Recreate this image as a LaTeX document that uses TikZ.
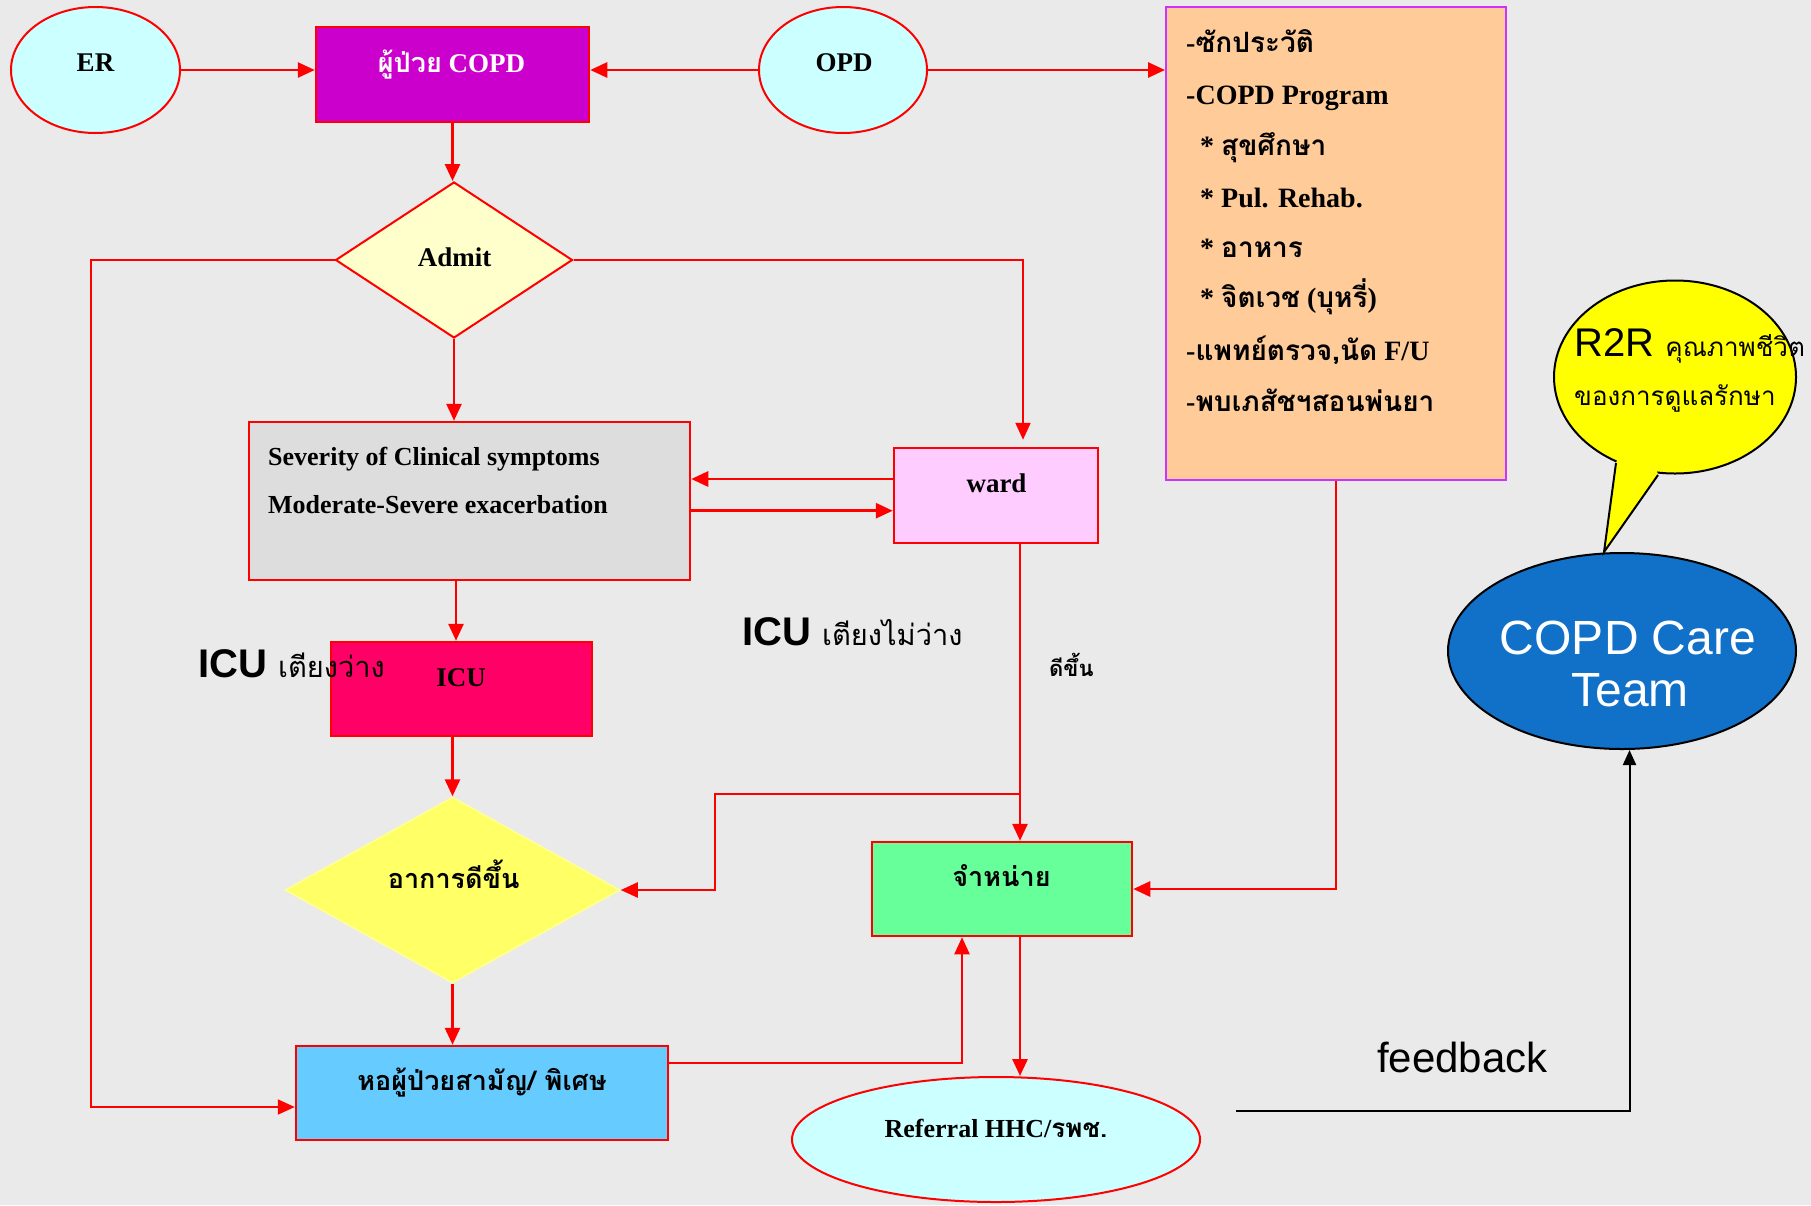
\documentclass[tikz,border=0pt]{standalone}
\usepackage{fontspec}
\setmainfont{Liberation Serif}
\setsansfont{Liberation Sans}
\newfontfamily\thf[Script=Thai]{Loma}
\usetikzlibrary{shapes.geometric,arrows.meta}

\definecolor{bgc}{RGB}{234,234,234}
\definecolor{lnred}{RGB}{255,0,0}
\definecolor{magc}{RGB}{204,0,204}
\definecolor{ovalc}{RGB}{204,255,255}
\definecolor{admitc}{RGB}{255,255,204}
\definecolor{sevc}{RGB}{221,221,221}
\definecolor{wardc}{RGB}{255,204,255}
\definecolor{icuc}{RGB}{255,0,102}
\definecolor{betterc}{RGB}{255,255,102}
\definecolor{betteredge}{RGB}{255,255,153}
\definecolor{dischc}{RGB}{102,255,153}
\definecolor{wardtwoc}{RGB}{102,204,255}
\definecolor{orangec}{RGB}{255,204,153}
\definecolor{violetc}{RGB}{204,51,255}
\definecolor{teamc}{RGB}{17,112,200}
\definecolor{bubblec}{RGB}{255,255,0}

\begin{document}
\begin{tikzpicture}[x=1pt,y=-1pt,
  flowbox/.style={rectangle, draw=lnred, line width=2.5pt, inner sep=0pt},
  oval/.style={ellipse, draw=lnred, line width=2pt, fill=ovalc, inner sep=0pt},
  tip/.style={-{Triangle[length=17pt,width=15pt]}},
  arr/.style={draw=lnred, line width=2.8pt, tip},
  link/.style={draw=lnred, line width=2.2pt, tip},
  fbarr/.style={draw=black, line width=2pt, -{Triangle[length=15pt,width=13pt]}},
  lbl/.style={inner sep=0pt, anchor=base, font=\fontsize{27}{32}\selectfont\bfseries},
  lblw/.style={inner sep=0pt, anchor=base west, font=\fontsize{26}{32}\selectfont\bfseries},
  prog/.style={inner sep=0pt, anchor=base west, font=\fontsize{28}{34}\selectfont\bfseries},
  bigsans/.style={inner sep=0pt, anchor=base west, font=\sffamily\fontsize{40}{46}\selectfont}
]
% canvas
\useasboundingbox (0,0) rectangle (1811,1205);
\fill[bgc] (0,0) rectangle (1811,1205);

% ---- shapes ----
\node[oval, minimum width=169pt, minimum height=126pt] (er) at (95.5,70) {};
\node[oval, minimum width=168pt, minimum height=126pt] (opd) at (843,70) {};
\node[flowbox, fill=magc, minimum width=273pt, minimum height=95pt] (copd) at (452.5,74.5) {};
\node[diamond, draw=lnred, line width=2pt, fill=admitc, inner sep=0pt,
      minimum width=237pt, minimum height=156pt] (admit) at (454,260) {};
\node[flowbox, fill=sevc, minimum width=441pt, minimum height=158pt] (sev) at (469.5,501) {};
\node[flowbox, fill=wardc, minimum width=204pt, minimum height=95pt] (ward) at (996,495.5) {};
\node[flowbox, fill=icuc, minimum width=261pt, minimum height=94pt] (icu) at (461.5,689) {};
\node[diamond, draw=betteredge, line width=1.5pt, fill=betterc, inner sep=0pt,
      minimum width=335pt, minimum height=186pt] (better) at (452.5,890) {};
\node[flowbox, fill=dischc, minimum width=260pt, minimum height=94pt] (disch) at (1002,889) {};
\node[flowbox, fill=wardtwoc, minimum width=372pt, minimum height=94pt] (ward2) at (482,1093) {};
\node[oval, minimum width=408pt, minimum height=125pt] (referral) at (996,1139.5) {};
\node[rectangle, draw=violetc, line width=2pt, fill=orangec, inner sep=0pt,
      minimum width=340pt, minimum height=473pt] (orange) at (1336,243.5) {};
\node[ellipse, draw=black, line width=2pt, fill=teamc, inner sep=0pt,
      minimum width=348pt, minimum height=196pt] (team) at (1622,651) {};

% speech bubble with its tail
\node[ellipse, draw=black, line width=2pt, fill=bubblec, inner sep=0pt,
      minimum width=242pt, minimum height=193pt] (bubble) at (1675,377) {};
\coordinate (tailA) at (1616,463);
\coordinate (tailB) at (1658,475);
\coordinate (tailtip) at (1604,552);
\fill[bubblec] (tailA) -- (tailtip) -- (tailB) -- (1652,452) -- (1622,448) -- cycle;
\draw[black, line width=2pt, line join=miter] (tailA) -- (tailtip) -- (tailB);

% ---- connectors ----
\draw[arr] (er.east) -- (er.east -| copd.west);
\draw[arr] (opd.west) -- (opd.west -| copd.east);
\draw[arr] (opd.east) -- (opd.east -| orange.west);
\draw[arr] (copd.south) -- (copd.south |- admit.north);
\draw[arr] (admit.south) -- (admit.south |- sev.north);

\coordinate (lcorner) at (91,260);
\draw[link] (admit.west) -- (lcorner) |- ([yshift=-14pt]ward2.west);

\coordinate (rcorner) at (1023,260);
\draw[link, shorten >=7pt] (admit.east) -- (rcorner) -- (rcorner |- ward.north);

\draw[arr] ([yshift=16.5pt]ward.west) -- ([yshift=16.5pt]ward.west -| sev.east);
\draw[arr] ([yshift=-9.7pt]sev.east) -- ([yshift=-9.7pt]sev.east -| ward.west);
\draw[arr] ([xshift=-13.5pt]sev.south) -- ([xshift=-13.5pt]sev.south |- icu.north);
\draw[arr] (icu.south -| better.north) -- (better.north);

\draw[arr] ([xshift=24pt]ward.south) -- ([xshift=24pt]ward.south |- disch.north);
\coordinate (split) at (1020,794);
\coordinate (jog) at (715,794);
\draw[link] (split) -- (jog) |- (better.east);

\draw[arr] (orange.south) |- (disch.east);
\draw[arr] (better.south) -- (better.south |- ward2.north);
\draw[link] ([yshift=30pt]ward2.east) -| ([xshift=-40pt]disch.south);
\draw[arr] ([xshift=18pt]disch.south) -- ([xshift=18pt]disch.south |- referral.north);

\coordinate (fbstart) at (1236,1111);
\draw[fbarr] (fbstart) -| ([xshift=7.5pt]team.south);

% ---- texts ----
\node[lbl] (ertxt) at (95.5,71) {ER};
\node[lbl] (opdtxt) at (844,71) {OPD};
\node[lbl, text=white] (copdtxt) at (451.5,72.7) {{\thf ผู้ป่วย} COPD};
\node[lbl] (admittxt) at (454.5,266) {Admit};
\node[lblw] (sevone) at (268,465) {Severity of Clinical symptoms};
\node[lblw] (sevtwo) at (268,513) {Moderate-Severe exacerbation};
\node[lbl] (wardtxt) at (996.5,492.7) {ward};
\node[lbl] (icutxt) at (461,686.7) {ICU};
\node[lbl] (bettertxt) at (453.7,888) {\thf อาการดีขึ้น};
\node[lbl] (dischtxt) at (1001.5,886) {\thf จำหน่าย};
\node[lbl] (wardtwotxt) at (482,1090) {\thf หอผู้ป่วยสามัญ/ พิเศษ};
\node[lbl, font=\fontsize{26}{32}\selectfont\bfseries] (reftxt) at (996,1137) {Referral HHC/{\thf รพช.}};

\node[bigsans] (freebed) at (198,677) {\bfseries ICU {\mdseries\thf\fontsize{29}{34}\selectfont เตียงว่าง}};
\node[bigsans] (nobed) at (742,645.7) {\bfseries ICU {\mdseries\thf\fontsize{29}{34}\selectfont เตียงไม่ว่าง}};
\node[inner sep=0pt, anchor=base west, font=\thf\bfseries\fontsize{22}{28}\selectfont] (improved) at (1049,676) {ดีขึ้น};

% programme list
\node[prog] (pa) at (1186,52) {-{\thf ซักประวัติ}};
\node[prog] (pb) at (1186,104) {-COPD Program};
\node[prog] (pc) at (1200,155) {* {\thf สุขศึกษา}};
\node[prog] (pd) at (1200,207) {* Pul. Rehab.};
\node[prog] (pe) at (1200,257) {* {\thf อาหาร}};
\node[prog] (pf) at (1200,307) {* {\thf จิตเวช} ({\thf บุหรี่})};
\node[prog] (pg) at (1186,360) {-{\thf แพทย์ตรวจ,นัด} F/U};
\node[prog] (ph) at (1186,411) {-{\thf พบเภสัชฯสอนพ่นยา}};

% care team
\node[inner sep=0pt, anchor=base, text=white, font=\sffamily\fontsize{48}{54}\selectfont] (teamone) at (1628,654) {COPD Care};
\node[inner sep=0pt, anchor=base, text=white, font=\sffamily\fontsize{48}{54}\selectfont] (teamtwo) at (1630,706.4) {Team};
\node[inner sep=0pt, anchor=base west, font=\sffamily\fontsize{42}{48}\selectfont] (fbtxt) at (1377,1072) {feedback};

% bubble text
\node[bigsans] (rtr) at (1574,356.7) {R2R {\thf\fontsize{26}{32}\selectfont คุณภาพชีวิต}};
\node[inner sep=0pt, anchor=base west, font=\thf\fontsize{26}{32}\selectfont] (rtrtwo) at (1574,405) {ของการดูแลรักษา};
\end{tikzpicture}
\end{document}
